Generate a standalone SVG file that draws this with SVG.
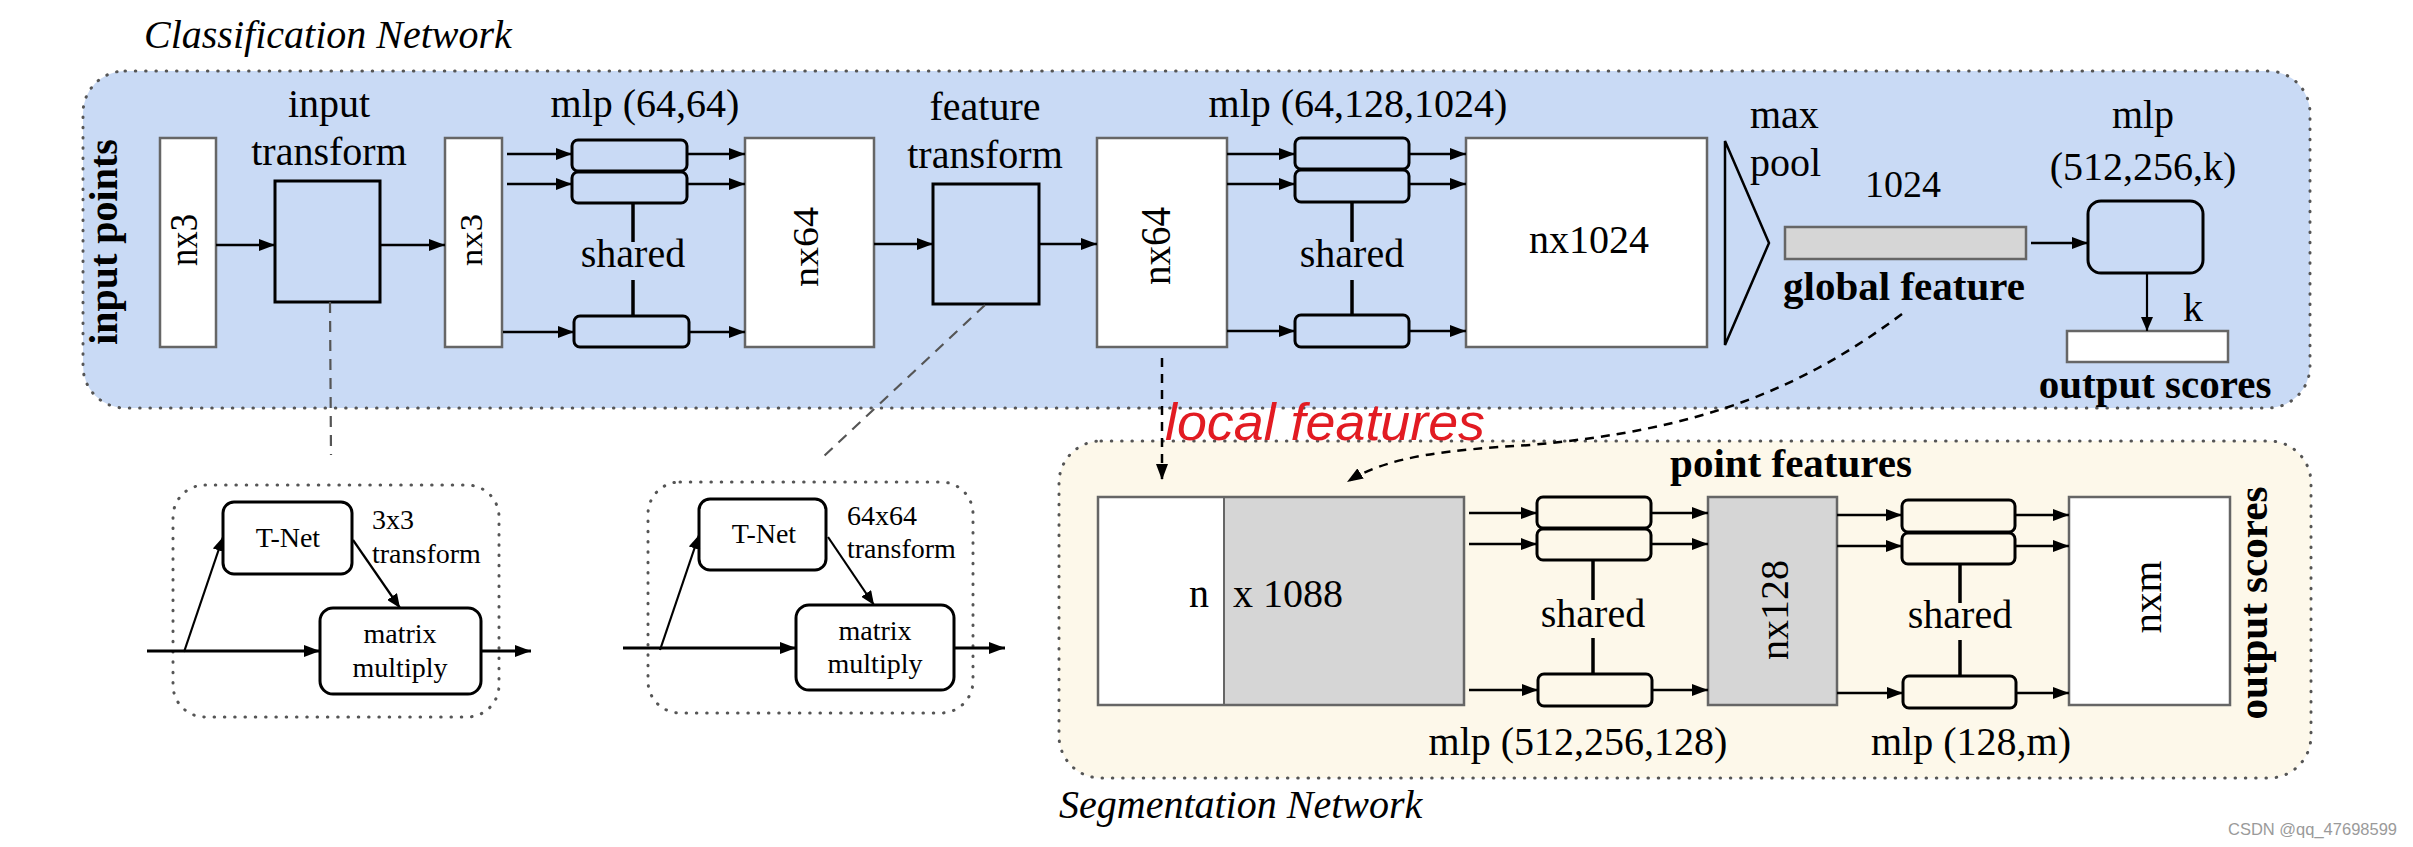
<svg xmlns="http://www.w3.org/2000/svg" width="2413" height="847" viewBox="0 0 2413 847">
<style>
.t{font-family:"Liberation Serif","Times New Roman",serif;font-size:40px;fill:#000}
.b{font-weight:bold}
.i{font-style:italic}
.s{font-size:28px}
.m{text-anchor:middle}
.data{fill:#fff;stroke:#666;stroke-width:2.5}
.gray{fill:#d6d6d6;stroke:#666;stroke-width:2.5}
.op{stroke:#000;stroke-width:3}
.blue{fill:#c9daf5}
.cream{fill:#fdf8ea}
.frame{fill:none;stroke:#555;stroke-width:3;stroke-dasharray:0.5 9.8;stroke-linecap:round}
.ar{stroke:#000;stroke-width:2.7;fill:none;marker-end:url(#ah)}
.thin{stroke:#000;stroke-width:2.2;fill:none;marker-end:url(#ah2)}
.ln{stroke:#000;stroke-width:3.5}
.dash{stroke:#000;stroke-width:2.5;fill:none;stroke-dasharray:9 7;marker-end:url(#ah)}
.gdash{stroke:#555;stroke-width:2.2;fill:none;stroke-dasharray:11 8}
</style>
<defs>
<marker id="ah" markerUnits="userSpaceOnUse" markerWidth="16" markerHeight="12" refX="16" refY="6" orient="auto"><path d="M0,0 L16,6 L0,12 z" fill="#000"/></marker>
<marker id="ah2" markerUnits="userSpaceOnUse" markerWidth="14" markerHeight="12" refX="14" refY="6" orient="auto"><path d="M0,0 L14,6 L0,12 z" fill="#000"/></marker>
</defs>

<!-- backgrounds -->
<g id="classification-frame">
<rect x="83" y="71" width="2227" height="337" rx="42" class="blue"/>
<rect x="83" y="71" width="2227" height="337" rx="42" class="frame"/>
<text x="144" y="48" class="t i">Classification Network</text>
</g>
<g id="segmentation-frame">
<rect x="1059" y="441" width="1252" height="337" rx="42" class="cream"/>
<rect x="1059" y="441" width="1252" height="337" rx="42" class="frame"/>
<text x="1059" y="818" class="t i">Segmentation Network</text>
</g>

<!-- classification nodes -->
<g id="input-points">
<text transform="translate(117,242) rotate(-90)" class="t b m">input points</text>
</g>
<g id="nx3-a">
<rect x="160" y="138" width="56" height="209" class="data"/>
<text transform="translate(197,240) rotate(-90)" class="t m" textLength="52" lengthAdjust="spacingAndGlyphs">nx3</text>
</g>
<g id="input-transform">
<rect x="275" y="181" width="105" height="121" class="blue op"/>
<text x="329" y="117" class="t m">input</text>
<text x="329" y="165" class="t m">transform</text>
</g>
<g id="nx3-b">
<rect x="445" y="138" width="57" height="209" class="data"/>
<text transform="translate(482,240) rotate(-90)" class="t m" style="font-size:32px" textLength="52" lengthAdjust="spacingAndGlyphs">nx3</text>
</g>
<g id="mlp-64-64">
<text x="645" y="117" class="t m">mlp (64,64)</text>
<rect x="572" y="140" width="115" height="31" rx="6" class="blue op"/>
<rect x="572" y="172" width="115" height="31" rx="6" class="blue op"/>
<rect x="574" y="316" width="115" height="31" rx="6" class="blue op"/>
<line x1="633" y1="203" x2="633" y2="242" class="ln"/>
<line x1="633" y1="280" x2="633" y2="316" class="ln"/>
<text x="633" y="267" class="t m">shared</text>
</g>
<g id="nx64-a">
<rect x="745" y="138" width="129" height="209" class="data"/>
<text transform="translate(818,247) rotate(-90)" class="t m" style="font-size:36px" textLength="80" lengthAdjust="spacingAndGlyphs">nx64</text>
</g>
<g id="feature-transform">
<rect x="933" y="184" width="106" height="120" class="blue op"/>
<text x="985" y="120" class="t m">feature</text>
<text x="985" y="168" class="t m">transform</text>
</g>
<g id="nx64-b">
<rect x="1097" y="138" width="130" height="209" class="data"/>
<text transform="translate(1170,246) rotate(-90)" class="t m" style="font-size:42px" textLength="78" lengthAdjust="spacingAndGlyphs">nx64</text>
</g>
<g id="mlp-64-128-1024">
<text x="1358" y="117" class="t m">mlp (64,128,1024)</text>
<rect x="1295" y="138" width="114" height="31" rx="6" class="blue op"/>
<rect x="1295" y="170" width="114" height="32" rx="6" class="blue op"/>
<rect x="1295" y="315" width="114" height="32" rx="6" class="blue op"/>
<line x1="1352" y1="202" x2="1352" y2="242" class="ln"/>
<line x1="1352" y1="280" x2="1352" y2="315" class="ln"/>
<text x="1352" y="267" class="t m">shared</text>
</g>
<g id="nx1024">
<rect x="1466" y="138" width="241" height="209" class="data"/>
<text x="1589" y="253" class="t m">nx1024</text>
</g>
<g id="max-pool">
<path d="M1725,141 L1769,243 L1725,345 Z" fill="none" stroke="#000" stroke-width="2.5" stroke-linejoin="miter"/>
<text x="1750" y="128" class="t">max</text>
<text x="1750" y="176" class="t">pool</text>
</g>
<g id="global-feature">
<text x="1903" y="197" class="t m" style="font-size:38px">1024</text>
<rect x="1785" y="227" width="241" height="32" class="gray"/>
<text x="1904" y="300" class="t b m" style="font-size:41px">global feature</text>
</g>
<g id="mlp-512-256-k">
<text x="2143" y="128" class="t m">mlp</text>
<text x="2143" y="180" class="t m">(512,256,k)</text>
<rect x="2088" y="201" width="115" height="72" rx="13" class="blue op"/>
</g>
<g id="cls-output">
<text x="2183" y="321" class="t">k</text>
<rect x="2067" y="331" width="161" height="31" class="data"/>
<text x="2155" y="398" class="t b m" style="font-size:41px">output scores</text>
</g>

<!-- T-Net detail nodes -->
<g id="tnet-3x3">
<rect x="173" y="485" width="326" height="232" rx="32" class="frame"/>
<rect x="223" y="502" width="129" height="72" rx="11" fill="#fff" class="op"/>
<text x="288" y="547" class="t s m">T-Net</text>
<text x="372" y="529" class="t s">3x3</text>
<text x="372" y="563" class="t s">transform</text>
<rect x="320" y="608" width="161" height="86" rx="13" fill="#fff" class="op"/>
<text x="400" y="643" class="t s m">matrix</text>
<text x="400" y="677" class="t s m">multiply</text>
</g>
<g id="tnet-64x64">
<rect x="648" y="482" width="325" height="231" rx="32" class="frame"/>
<rect x="699" y="499" width="127" height="71" rx="11" fill="#fff" class="op"/>
<text x="764" y="543" class="t s m">T-Net</text>
<text x="847" y="525" class="t s">64x64</text>
<text x="847" y="558" class="t s">transform</text>
<rect x="796" y="605" width="158" height="85" rx="13" fill="#fff" class="op"/>
<text x="875" y="640" class="t s m">matrix</text>
<text x="875" y="673" class="t s m">multiply</text>
</g>

<!-- segmentation nodes -->
<g id="point-features">
<text x="1791" y="477" class="t b m" style="font-size:41px">point features</text>
</g>
<g id="nx1088">
<rect x="1098" y="497" width="126" height="208" fill="#fff"/>
<rect x="1224" y="497" width="240" height="208" fill="#d6d6d6"/>
<rect x="1098" y="497" width="366" height="208" fill="none" stroke="#666" stroke-width="2.5"/>
<line x1="1224" y1="497" x2="1224" y2="705" stroke="#666" stroke-width="2"/>
<text x="1189" y="607" class="t">n</text>
<text x="1233" y="607" class="t">x 1088</text>
</g>
<g id="mlp-512-256-128">
<rect x="1537" y="497" width="114" height="31" rx="6" class="cream op"/>
<rect x="1537" y="529" width="114" height="31" rx="6" class="cream op"/>
<rect x="1538" y="674" width="114" height="32" rx="6" class="cream op"/>
<line x1="1593" y1="560" x2="1593" y2="600" class="ln"/>
<line x1="1593" y1="638" x2="1593" y2="674" class="ln"/>
<text x="1593" y="627" class="t m">shared</text>
<text x="1578" y="755" class="t m">mlp (512,256,128)</text>
</g>
<g id="nx128">
<rect x="1708" y="497" width="129" height="208" class="gray"/>
<text transform="translate(1788,610) rotate(-90)" class="t m" textLength="100" lengthAdjust="spacingAndGlyphs">nx128</text>
</g>
<g id="mlp-128-m">
<rect x="1902" y="500" width="113" height="32" rx="6" class="cream op"/>
<rect x="1902" y="533" width="113" height="31" rx="6" class="cream op"/>
<rect x="1903" y="676" width="113" height="32" rx="6" class="cream op"/>
<line x1="1960" y1="564" x2="1960" y2="603" class="ln"/>
<line x1="1960" y1="640" x2="1960" y2="676" class="ln"/>
<text x="1960" y="628" class="t m">shared</text>
<text x="1971" y="755" class="t m">mlp (128,m)</text>
</g>
<g id="nxm">
<rect x="2069" y="497" width="161" height="208" class="data"/>
<text transform="translate(2161,597) rotate(-90)" class="t m" textLength="73" lengthAdjust="spacingAndGlyphs">nxm</text>
</g>
<g id="seg-output-label">
<text transform="translate(2267,603) rotate(-90)" class="t b m" textLength="233" lengthAdjust="spacingAndGlyphs">output scores</text>
</g>

<g id="annotation">
<text x="1165" y="440" font-family="'Liberation Sans',Arial,sans-serif" font-size="52" font-style="italic" fill="#e21b22" textLength="320" lengthAdjust="spacingAndGlyphs">local features</text>
<text x="2228" y="835" font-family="'Liberation Sans',Arial,sans-serif" font-size="16.5" fill="#9a9a9a">CSDN @qq_47698599</text>
</g>

<!-- connectors -->
<g id="connectors">
<line x1="216" y1="245" x2="275" y2="245" class="ar"/>
<line x1="380" y1="245" x2="445" y2="245" class="ar"/>
<line x1="507" y1="154" x2="572" y2="154" class="ar"/>
<line x1="507" y1="184" x2="572" y2="184" class="ar"/>
<line x1="503" y1="332" x2="574" y2="332" class="ar"/>
<line x1="687" y1="154" x2="745" y2="154" class="ar"/>
<line x1="687" y1="184" x2="745" y2="184" class="ar"/>
<line x1="689" y1="332" x2="745" y2="332" class="ar"/>
<line x1="874" y1="244" x2="933" y2="244" class="ar"/>
<line x1="1039" y1="244" x2="1097" y2="244" class="ar"/>
<line x1="1227" y1="154" x2="1295" y2="154" class="ar"/>
<line x1="1227" y1="184" x2="1295" y2="184" class="ar"/>
<line x1="1227" y1="331" x2="1295" y2="331" class="ar"/>
<line x1="1409" y1="154" x2="1466" y2="154" class="ar"/>
<line x1="1409" y1="184" x2="1466" y2="184" class="ar"/>
<line x1="1409" y1="331" x2="1466" y2="331" class="ar"/>
<line x1="2031" y1="243" x2="2088" y2="243" class="ar"/>
<line x1="2147" y1="273" x2="2147" y2="331" class="thin"/>
<!-- transform detail links -->
<line x1="330" y1="302" x2="331" y2="455" class="gdash"/>
<line x1="985" y1="305" x2="822" y2="458" class="gdash"/>
<!-- T-Net 3x3 -->
<line x1="147" y1="651" x2="320" y2="651" class="ar" style="stroke-width:3"/>
<line x1="481" y1="651" x2="531" y2="651" class="ar" style="stroke-width:3"/>
<line x1="184" y1="652" x2="223" y2="537" class="thin"/>
<line x1="353" y1="540" x2="400" y2="608" class="thin"/>
<!-- T-Net 64x64 -->
<line x1="623" y1="648" x2="796" y2="648" class="ar" style="stroke-width:3"/>
<line x1="954" y1="648" x2="1005" y2="648" class="ar" style="stroke-width:3"/>
<line x1="660" y1="650" x2="699" y2="535" class="thin"/>
<line x1="828" y1="537" x2="874" y2="605" class="thin"/>
<!-- local / global feature links -->
<line x1="1162" y1="358" x2="1162" y2="480" class="dash"/>
<path d="M1902,314 C1800,390 1700,430 1530,445 C1450,450 1390,455 1347,482" class="dash"/>
<!-- segmentation -->
<line x1="1469" y1="513" x2="1537" y2="513" class="ar"/>
<line x1="1469" y1="544" x2="1537" y2="544" class="ar"/>
<line x1="1469" y1="690" x2="1538" y2="690" class="ar"/>
<line x1="1651" y1="513" x2="1708" y2="513" class="ar"/>
<line x1="1651" y1="544" x2="1708" y2="544" class="ar"/>
<line x1="1652" y1="690" x2="1708" y2="690" class="ar"/>
<line x1="1837" y1="515" x2="1902" y2="515" class="ar"/>
<line x1="1837" y1="546" x2="1902" y2="546" class="ar"/>
<line x1="1837" y1="693" x2="1903" y2="693" class="ar"/>
<line x1="2015" y1="515" x2="2069" y2="515" class="ar"/>
<line x1="2015" y1="546" x2="2069" y2="546" class="ar"/>
<line x1="2016" y1="693" x2="2069" y2="693" class="ar"/>
</g>
</svg>
